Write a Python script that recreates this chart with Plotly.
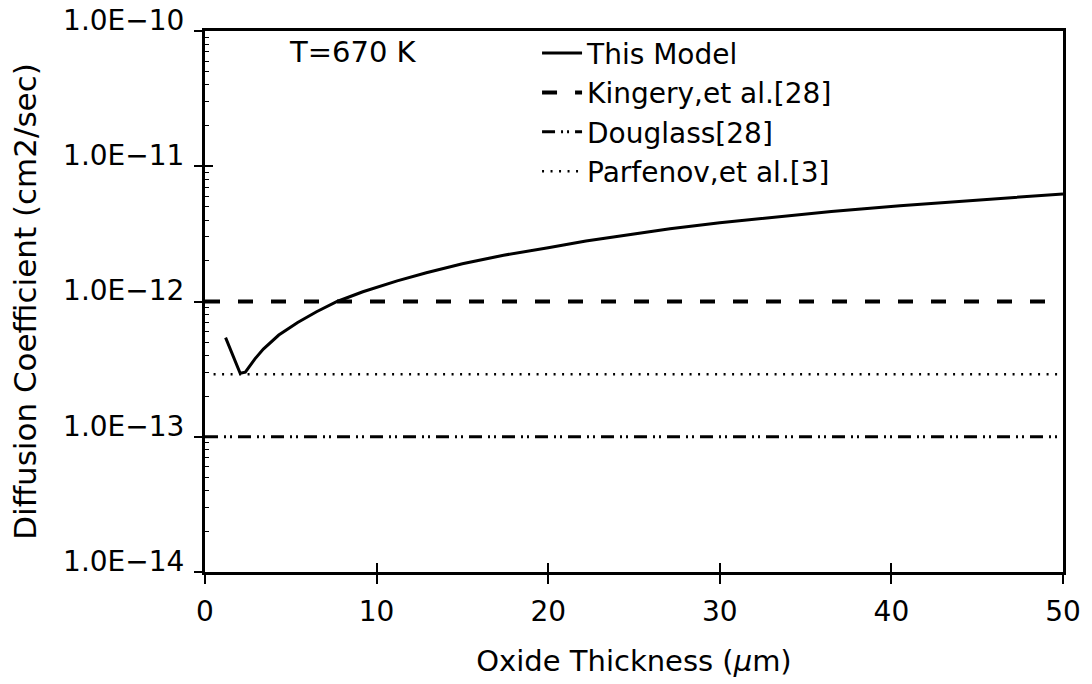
import plotly.graph_objects as go

# Oxide thickness (um) and diffusion coefficient (cm2/sec) from the model
model_thickness = [1.2, 2.05, 2.35, 2.9, 3.4, 4.3, 5.4, 6.5, 7.7, 9.2, 11.2, 12.9, 15.0,
                   17.4, 20.0, 22.2, 25.0, 27.1, 30.0, 33.2, 36.5, 40.5, 45.2, 50.0]
model_diffusion = [5.4e-13, 2.95e-13, 3.0e-13, 3.75e-13, 4.45e-13, 5.65e-13, 7.0e-13,
                   8.4e-13, 1.0e-12, 1.18e-12, 1.42e-12, 1.63e-12, 1.9e-12, 2.2e-12,
                   2.5e-12, 2.8e-12, 3.15e-12, 3.45e-12, 3.82e-12, 4.2e-12, 4.62e-12,
                   5.1e-12, 5.65e-12, 6.24e-12]

# Constant literature values
ref_thickness = [0.0, 50.0]
kingery_value = 1.0e-12
douglass_value = 1.0e-13
parfenov_value = 2.9e-13
parfenov_thickness = [0.5, 50.0]

x_tick_vals = [0, 10, 20, 30, 40, 50]
y_tick_vals = [1e-14, 1e-13, 1e-12, 1e-11, 1e-10]
y_tick_text = ["1.0E\u221214", "1.0E\u221213", "1.0E\u221212", "1.0E\u221211", "1.0E\u221210"]

FONT = "DejaVu Sans"
BLACK = "#000000"

fig = go.Figure()

fig.add_trace(go.Scatter(
    x=model_thickness, y=model_diffusion, mode="lines", name="This Model",
    line=dict(color=BLACK, width=3),
))
fig.add_trace(go.Scatter(
    x=ref_thickness, y=[kingery_value] * 2, mode="lines", name="Kingery,et al.[28]",
    line=dict(color=BLACK, width=4, dash="15px,18px"),
))
fig.add_trace(go.Scatter(
    x=ref_thickness, y=[douglass_value] * 2, mode="lines", name="Douglass[28]",
    line=dict(color=BLACK, width=3, dash="13px,6px,2px,4px,2px,6px"),
))
fig.add_trace(go.Scatter(
    x=parfenov_thickness, y=[parfenov_value] * 2, mode="lines", name="Parfenov,et al.[3]",
    line=dict(color=BLACK, width=2.5, dash="2px,6.5px"),
))
# carrier for the inner half of the crossing ticks
fig.add_trace(go.Scatter(
    x=[25], y=[1e-12], xaxis="x2", yaxis="y2", mode="markers",
    marker=dict(opacity=0), showlegend=False, hoverinfo="skip",
))

axis_common = dict(showgrid=False, zeroline=False, linecolor=BLACK, tickcolor=BLACK,
                   automargin=False)

fig.update_layout(
    width=1092, height=684,
    margin=dict(l=205, r=29, t=31, b=112),
    paper_bgcolor="white", plot_bgcolor="white",
    font=dict(family=FONT, size=28, color=BLACK),
    showlegend=True,
    legend=dict(
        x=0.387, y=1.005, xanchor="left", yanchor="top",
        bgcolor="rgba(0,0,0,0)", font=dict(family=FONT, size=28, color=BLACK),
        tracegroupgap=0, itemwidth=40,
    ),
    xaxis=dict(
        **axis_common, range=[0, 50], tickvals=x_tick_vals,
        ticks="outside", ticklen=9, tickwidth=2, linewidth=3, mirror=True,
        tickfont=dict(family=FONT, size=28), ticklabelstandoff=3,
        title=dict(text="Oxide Thickness (<i>\u03bc</i>m)", font=dict(family=FONT, size=29),
                   standoff=25),
    ),
    yaxis=dict(
        **axis_common, type="log", range=[-14, -10], tickvals=y_tick_vals,
        ticktext=y_tick_text, ticks="outside", ticklen=8, tickwidth=2, linewidth=3,
        mirror=True, tickfont=dict(family=FONT, size=28), ticklabelshift=-11,
        ticklabelstandoff=4,
        title=dict(text="Diffusion Coefficient (cm2/sec)", font=dict(family=FONT, size=31),
                   standoff=18),
    ),
    xaxis2=dict(
        overlaying="x", anchor="y", side="bottom", range=[0, 50], tickvals=x_tick_vals,
        ticks="inside", ticklen=9, tickwidth=2, tickcolor=BLACK, showticklabels=False,
        showline=False, showgrid=False, zeroline=False, automargin=False,
    ),
    yaxis2=dict(
        overlaying="y", anchor="x", side="left", type="log", range=[-14, -10],
        tickvals=y_tick_vals, ticks="inside", ticklen=8, tickwidth=2, tickcolor=BLACK,
        showticklabels=False, showline=False, showgrid=False, zeroline=False,
        automargin=False,
        minor=dict(ticks="inside", ticklen=4, tickwidth=1, tickcolor=BLACK,
                   tickvals=[m * 10.0 ** e for e in range(-14, -10) for m in range(2, 10)]),
    ),
    annotations=[dict(
        text="T=670 K", x=0.173, y=0.962, xref="paper", yref="paper",
        xanchor="center", yanchor="middle", showarrow=False,
        font=dict(family=FONT, size=29, color=BLACK),
    )],
)

fig.write_html("out.html")
